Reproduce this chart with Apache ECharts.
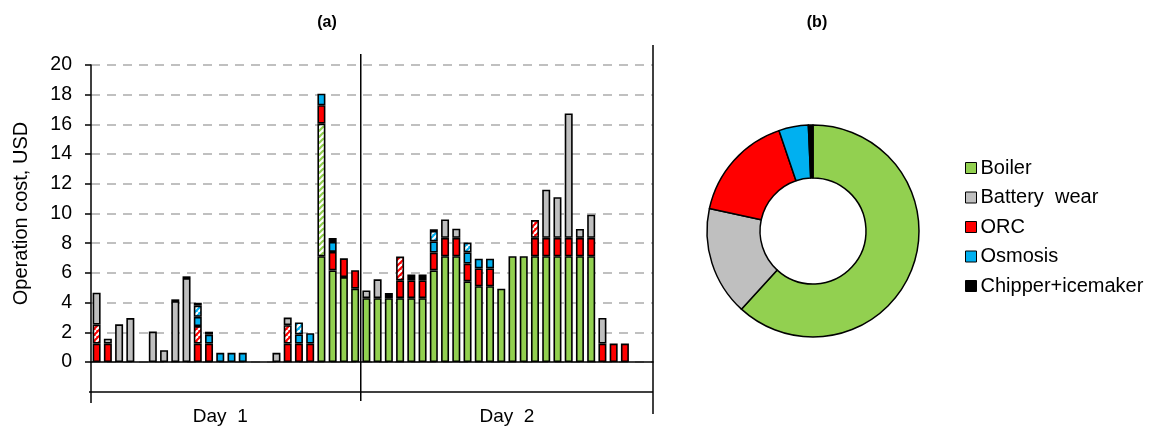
<!DOCTYPE html>
<html>
<head>
<meta charset="utf-8">
<script src="https://cdn.jsdelivr.net/npm/echarts@6/dist/echarts.min.js"></script>
<style>
  html, body { margin: 0; padding: 0; background: #fff; }
  #main { width: 1156px; height: 430px; }
</style>
</head>
<body>
<div id="main"></div>
<script>
// Time slots on the cost axis (24 for day 1, 26 for day 2)
const slots = Array.from({ length: 50 }, (_, i) => 'h' + (i + 1));
const dayLabels = ['Day  1', 'Day  2'];
const dayBreak = 24; // first slot of day 2

// Stacked operation cost per slot, USD (0 = nothing in that layer)
const boiler = [0,0,0,0,0,0,0,0,0,0, 0,0,0,0,0,0,0,0,0,0,
  7.12,6.17,5.72,4.94, 4.3,4.3,4.3,4.3,4.3,4.3, 6.17,7.12,7.12,5.43,5.1,5.1,4.94,7.12,7.12,7.12,
  7.12,7.12,7.12,7.12,7.12,0,0,0,0,0];
const boilerHatched = [0,0,0,0,0,0,0,0,0,0, 0,0,0,0,0,0,0,0,0,0,
  8.93,0,0,0, 0,0,0,0,0,0, 0,0,0,0,0,0,0,0,0,0, 0,0,0,0,0,0,0,0,0,0];
const orc = [1.24,1.24,0,0,0,0,0,0,0,1.24, 1.24,0,0,0,0,0,0,1.24,1.24,1.24,
  1.24,1.24,1.26,1.24, 0,0,0,1.2,1.2,1.2, 1.2,1.24,1.24,1.2,1.2,1.2,0,0,0,1.24,
  1.24,1.24,1.24,1.24,1.24,1.24,1.24,1.24,0,0];
const orcHatched = [1.28,0,0,0,0,0,0,0,0,1.18, 0,0,0,0,0,0,0,1.24,0,0,
  0,0,0,0, 0,0,0,1.6,0,0, 0,0,0,0,0,0,0,0,0,1.2, 0,0,0,0,0,0,0,0,0,0];
const osmosis = [0,0,0,0,0,0,0,0,0,0.62, 0.6,0.62,0.62,0.62,0,0,0,0,0.62,0.7,
  0.78,0.67,0,0, 0,0,0,0,0,0, 0.75,0,0,0.75,0.66,0.66,0,0,0,0, 0,0,0,0,0,0,0,0,0,0];
const osmosisHatched = [0,0,0,0,0,0,0,0,0,0.75, 0,0,0,0,0,0,0,0,0.8,0,
  0,0,0,0, 0,0,0,0,0,0, 0.7,0,0,0.66,0,0,0,0,0,0, 0,0,0,0,0,0,0,0,0,0];
const battery = [2.15,0.33,2.54,2.96,0,2.05,0.79,4.1,5.65,0, 0,0,0,0,0,0,0.62,0.51,0,0,
  0,0,0,0, 0.52,1.27,0,0,0,0, 0,1.24,0.62,0,0,0,0,0,0,0,
  3.24,2.74,8.38,0.6,1.56,1.73,0,0,0,0];
const chipper = [0,0,0,0,0,0,0,0.12,0.12,0.2, 0.2,0,0,0,0,0,0,0,0,0,
  0,0.27,0,0, 0,0,0.35,0,0.4,0.4, 0.12,0,0,0,0,0,0,0,0,0, 0,0,0,0,0,0,0,0,0,0];

// Share of total operation cost, %
const shareNames = ['Boiler', 'Battery  wear', 'ORC', 'Osmosis', 'Chipper+icemaker'];
const shareValues = [61.8, 16.6, 16.4, 4.5, 0.7];

const yTicks = { min: 0, max: 20, step: 2 };

const GREEN = '#92D050', GREY = '#BFBFBF', RED = '#FF0000', BLUE = '#00B0F0', BLACK = '#000000';
const FONT = '"Liberation Sans", Arial, sans-serif';

// diagonal hatch fill
function hatch(bg, fg) {
  const c = document.createElement('canvas');
  c.width = c.height = 6;
  const g = c.getContext('2d');
  g.fillStyle = bg; g.fillRect(0, 0, 6, 6);
  g.strokeStyle = fg; g.lineWidth = 2.2;
  for (const o of [-6, 0, 6]) {
    g.beginPath(); g.moveTo(o, 6); g.lineTo(o + 6, 0); g.stroke();
  }
  return { image: c, repeat: 'repeat' };
}

const layers = [
  { name: 'Boiler cost', data: boiler, color: GREEN },
  { name: 'Boiler cost, hatched', data: boilerHatched, color: hatch('#ffffff', GREEN) },
  { name: 'ORC cost', data: orc, color: RED },
  { name: 'ORC cost, hatched', data: orcHatched, color: hatch(RED, '#ffffff') },
  { name: 'Osmosis cost', data: osmosis, color: BLUE },
  { name: 'Osmosis cost, hatched', data: osmosisHatched, color: hatch(BLUE, '#ffffff') },
  { name: 'Battery wear cost', data: battery, color: GREY },
  { name: 'Chipper+icemaker cost', data: chipper, color: BLACK }
];

const G = { left: 91, top: 65, width: 562, height: 297 };

const chart = echarts.init(document.getElementById('main'), null, { renderer: 'canvas' });

const barSeries = layers.map(l => ({
  type: 'bar',
  name: l.name,
  stack: 'cost',
  barWidth: 8,
  silent: true,
  itemStyle: { color: l.color, borderColor: '#000', borderWidth: 1.6 },
  data: l.data.map(v => (v > 0 ? v : '-'))
}));

const option = {
  animation: false,
  backgroundColor: '#fff',
  textStyle: { fontFamily: FONT, color: '#000' },
  title: [
    { text: '(a)', left: 322, top: 10, textAlign: 'center',
      textStyle: { fontSize: 16, fontWeight: 'bold', color: '#000', fontFamily: FONT } },
    { text: '(b)', left: 812, top: 10, textAlign: 'center',
      textStyle: { fontSize: 16, fontWeight: 'bold', color: '#000', fontFamily: FONT } }
  ],
  grid: { left: G.left, top: G.top, width: G.width, height: G.height, containLabel: false },
  xAxis: {
    type: 'category',
    data: slots,
    axisLine: { lineStyle: { color: '#000', width: 1.5 } },
    axisTick: { show: false },
    axisLabel: { show: false },
    splitLine: { show: false }
  },
  yAxis: {
    type: 'value',
    min: yTicks.min, max: yTicks.max, interval: yTicks.step,
    name: 'Operation cost, USD',
    nameLocation: 'middle',
    nameGap: 60,
    nameTextStyle: { fontSize: 20, color: '#000', fontFamily: FONT },
    axisLine: { show: true, lineStyle: { color: '#000', width: 1.5 } },
    axisTick: { show: true, length: 6, lineStyle: { color: '#000', width: 1.5 } },
    axisLabel: { fontSize: 19.5, color: '#000', margin: 19, fontFamily: FONT },
    splitLine: { show: true, lineStyle: { color: '#C0C0C0', width: 2, type: [9, 7] } }
  },
  legend: {
    data: shareNames,
    orient: 'vertical',
    left: 960, top: 153,
    itemWidth: 11, itemHeight: 11, itemGap: 9.5,
    icon: 'rect',
    selectedMode: false,
    itemStyle: { borderColor: '#000', borderWidth: 1 },
    textStyle: { fontSize: 20, color: '#000', fontFamily: FONT, padding: [0, 0, 0, -1] }
  },
  series: [
    ...barSeries,
    {
      type: 'pie',
      name: 'Cost share',
      center: [813, 231],
      radius: [53, 106],
      startAngle: 90,
      clockwise: true,
      silent: true,
      label: { show: false },
      labelLine: { show: false },
      itemStyle: { borderColor: '#000', borderWidth: 1.5 },
      data: shareNames.map((n, i) => ({
        name: n, value: shareValues[i],
        itemStyle: { color: [GREEN, GREY, RED, BLUE, BLACK][i] }
      }))
    }
  ]
};

chart.setOption(option);

// Two-level category axis frame: day separators and day captions
const px = i => chart.convertToPixel({ xAxisIndex: 0 }, i);
const baseY = chart.convertToPixel({ yAxisIndex: 0 }, 0);
const topY = chart.convertToPixel({ yAxisIndex: 0 }, yTicks.max);
const leftX = G.left;
const rightX = G.left + G.width;
const divX = (px(dayBreak - 1) + px(dayBreak)) / 2;
const lineStyle = { stroke: '#000', lineWidth: 1.5 };
const seg = (x1, y1, x2, y2) => ({ type: 'line', silent: true, shape: { x1, y1, x2, y2 }, style: lineStyle });

chart.setOption({
  graphic: [
    seg(leftX, baseY, leftX, baseY + 41),
    seg(divX, topY - 11, divX, baseY + 39),
    seg(rightX, topY - 20, rightX, baseY + 52),
    seg(leftX - 2, baseY + 30, rightX, baseY + 30),
    { type: 'text', silent: true, x: px(11), y: baseY + 55,
      style: { text: dayLabels[0], fontSize: 19, fontFamily: FONT, fill: '#000', align: 'center', verticalAlign: 'middle' } },
    { type: 'text', silent: true, x: (divX + rightX) / 2, y: baseY + 55,
      style: { text: dayLabels[1], fontSize: 19, fontFamily: FONT, fill: '#000', align: 'center', verticalAlign: 'middle' } }
  ]
});
</script>
</body>
</html>
